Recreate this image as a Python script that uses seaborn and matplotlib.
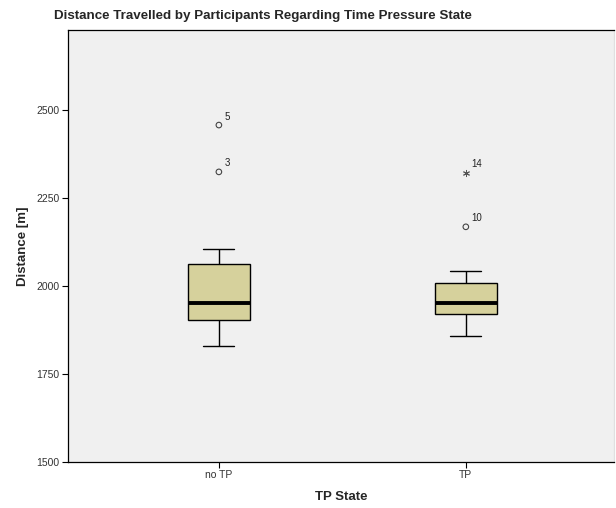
import numpy as np
import pandas as pd
import matplotlib
matplotlib.use("Agg")
import matplotlib.pyplot as plt
import seaborn as sns

# values
groups = ["no TP", "TP"]
no_tp = [1830, 1860, 1885, 1903, 1920, 1940, 1952, 1990, 2030, 2062, 2105, 2324, 2457]
tp = [1858, 1880, 1905, 1920, 1935, 1945, 1952, 1970, 1990, 2009, 2043, 2168, 2321]

# outliers (SPSS style: circle = outlier, star = extreme)
out_group = ["no TP", "no TP", "TP"]
out_value = [2457, 2324, 2168]
out_id = ["5", "3", "10"]
ext_group = ["TP"]
ext_value = [2321]
ext_id = ["14"]

df = pd.DataFrame({
    "TP State": ["no TP"] * len(no_tp) + ["TP"] * len(tp),
    "Distance": no_tp + tp,
})

sns.set_style("white")
plt.rcParams["font.family"] = ["Liberation Sans", "DejaVu Sans"]

fig = plt.figure(figsize=(6.16, 5.08), dpi=100)
ax = fig.add_axes([68 / 616, 46 / 508, 546 / 616, 432 / 508])
ax.set_facecolor("#f0f0f0")

sns.boxplot(data=df, x="TP State", y="Distance", order=groups, ax=ax,
            width=0.25, whis=1.5, showfliers=False, color="#d6d19c", saturation=1,
            boxprops=dict(edgecolor="black", linewidth=1),
            whiskerprops=dict(color="black", linewidth=1),
            capprops=dict(color="black", linewidth=1),
            medianprops=dict(color="black", linewidth=2.8))

pos = {g: i for i, g in enumerate(groups)}
ox = [pos[g] for g in out_group]
ax.scatter(ox, out_value, marker="o", s=16, facecolors="none", edgecolors="#444444",
           linewidths=0.8, zorder=5)
ex = [pos[g] for g in ext_group]
ax.scatter(ex, ext_value, marker=(6, 2, 0), s=20, color="#555555", linewidths=0.7, zorder=5)

for x, y, t in zip(ox + ex, out_value + ext_value, out_id + ext_id):
    ax.annotate(t, (x, y), xytext=(4, 4), textcoords="offset points",
                fontsize=7, color="#222222")

ax.set_ylim(1500, 2727)
ax.set_xlim(-0.611, 1.6)
ax.set_yticks([1500, 1750, 2000, 2250, 2500])
ax.tick_params(axis="both", direction="out", length=4, width=0.8, labelsize=7.5,
               colors="black", labelcolor="#333333", bottom=True, left=True, pad=2)
for s in ["left", "bottom", "top", "right"]:
    ax.spines[s].set_color("black")
    ax.spines[s].set_linewidth(0.9)
ax.spines["right"].set_color("#e0e0e0")

ax.set_xlabel("TP State", fontsize=9.5, fontweight="bold", labelpad=8)
ax.set_ylabel("Distance [m]", fontsize=9.5, fontweight="bold", labelpad=5)
fig.text(263 / 616, 1 - 16 / 508, "Distance Travelled by Participants Regarding Time Pressure State",
         ha="center", va="center", fontsize=9.6, fontweight="bold")

fig.savefig("out.png", dpi=100)
